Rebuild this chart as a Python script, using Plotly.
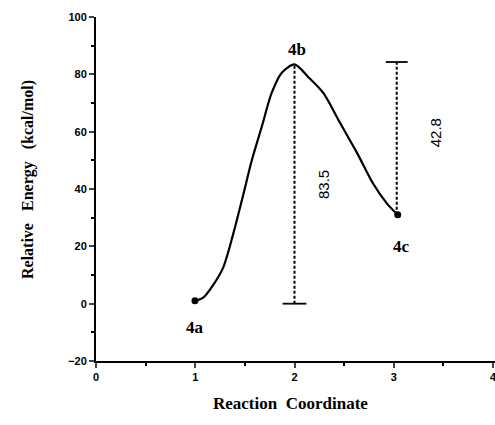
import plotly.graph_objects as go

# Energy profile
curve_x = [0.997, 1.08, 1.18, 1.28, 1.38, 1.48, 1.57, 1.67, 1.77, 1.87, 2.0, 2.14, 2.29, 2.46, 2.63, 2.79, 2.93, 3.04]
curve_y = [1.0, 2.1, 6.5, 12.5, 24.0, 37.5, 50.0, 61.7, 73.5, 80.5, 83.5, 79.0, 73.5, 63.0, 52.6, 42.0, 35.0, 31.0]

point_labels = ["4a", "4b", "4c"]
label_x = [1.0, 2.03, 3.08]
label_y = [-8.4, 88.8, 19.9]

# dotted energy bars
bar1_x = [2.0, 2.0]
bar1_y = [0.0, 83.5]
bar1_cap_x = [1.88, 2.12]
bar1_cap_y = [0.0, 0.0]
bar2_x = [3.03, 3.03]
bar2_y = [31.0, 84.3]
bar2_cap_x = [2.92, 3.14]
bar2_cap_y = [84.3, 84.3]

dot_x = [0.997, 3.04]
dot_y = [1.0, 31.0]

value_texts = ["83.5", "42.8"]
value_x = [2.29, 3.42]
value_y = [41.5, 59.6]

PW = 399  # plot width in px
fig = go.Figure()
fig.add_trace(go.Scatter(x=curve_x, y=curve_y, mode="lines", line=dict(color="black", width=2.2, shape="spline", smoothing=0.8), hoverinfo="skip"))
fig.add_trace(go.Scatter(x=bar1_x, y=bar1_y, mode="lines", line=dict(color="black", width=2, dash="3px,2px")))
fig.add_trace(go.Scatter(x=bar2_x, y=bar2_y, mode="lines", line=dict(color="black", width=2, dash="3px,2px")))
fig.add_trace(go.Scatter(x=bar1_cap_x, y=bar1_cap_y, mode="lines", line=dict(color="black", width=1.8)))
fig.add_trace(go.Scatter(x=bar2_cap_x, y=bar2_cap_y, mode="lines", line=dict(color="black", width=1.8)))
fig.add_trace(go.Scatter(x=dot_x, y=dot_y, mode="markers", marker=dict(color="black", size=7)))

for t, x, y in zip(point_labels, label_x, label_y):
    fig.add_annotation(x=x, y=y, text="<b>" + t + "</b>", showarrow=False,
                       font=dict(family="Liberation Serif", size=17, color="black"))
for t, x, y in zip(value_texts, value_x, value_y):
    fig.add_annotation(x=x, y=y, text=t, showarrow=False, textangle=-90,
                       font=dict(family="Liberation Sans", size=15, color="black"))

# axis titles placed relative to the plot area
fig.add_annotation(xref="paper", yref="paper", x=(290 - 96) / PW, y=-(415 - 361) / 344,
                   text="<b>Reaction  Coordinate</b>", showarrow=False,
                   font=dict(family="Liberation Serif", size=17, color="black"))
fig.add_annotation(xref="paper", yref="paper", x=-(96 - 17) / PW, y=(361 - 180) / 344,
                   text="<b>Relative   Energy   (kcal/mol)</b>", showarrow=False, textangle=-90,
                   font=dict(family="Liberation Serif", size=16, color="black"))

fig.update_layout(
    width=495, height=425,
    margin=dict(l=96, r=495 - 96 - PW, t=17, b=64),
    plot_bgcolor="white", paper_bgcolor="white",
    showlegend=False,
    xaxis=dict(range=[0, 4 * PW / 397], tickvals=[0, 1, 2, 3, 4], ticks="outside", ticklen=5, tickwidth=2,
               showline=True, linecolor="black", linewidth=2, showgrid=False, zeroline=False,
               automargin=False, ticklabeloverflow="allow",
               tickfont=dict(family="Liberation Sans", size=11, color="black", weight="bold"),
               minor=dict(tickvals=[0.5, 1.5, 2.5, 3.5], ticks="outside", ticklen=3, tickwidth=1.5, tickcolor="black")),
    yaxis=dict(range=[-20, 100], tickvals=[-20, 0, 20, 40, 60, 80, 100], ticks="outside", ticklen=5, tickwidth=2,
               showline=True, linecolor="black", linewidth=2, showgrid=False, zeroline=False,
               automargin=False, ticklabeloverflow="allow",
               tickfont=dict(family="Liberation Sans", size=11, color="black", weight="bold"),
               minor=dict(tickvals=[-10, 10, 30, 50, 70, 90], ticks="outside", ticklen=3, tickwidth=1.5, tickcolor="black")),
)
fig.write_html("out.html", config={"displayModeBar": False},
               post_script="document.body.style.margin='0';document.body.style.overflow='hidden';")
